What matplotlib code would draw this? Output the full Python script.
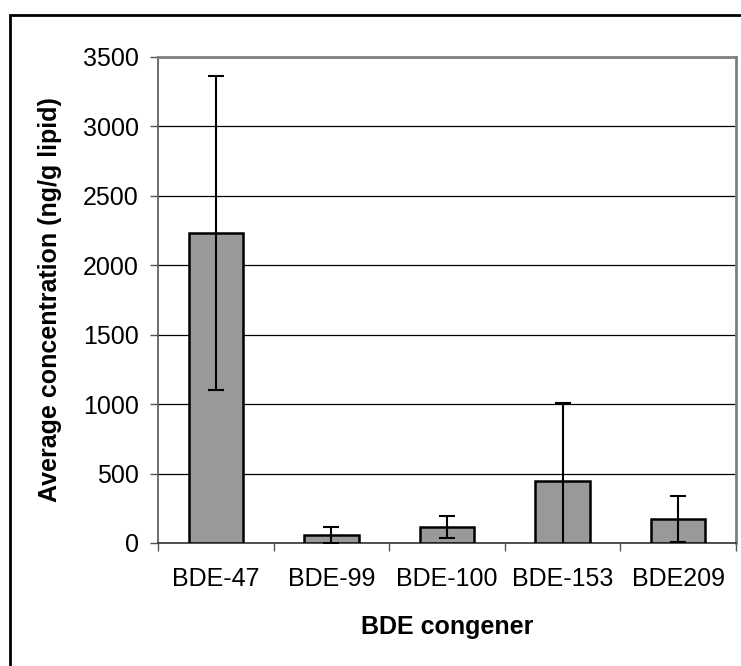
import matplotlib
matplotlib.use("Agg")
import matplotlib.pyplot as plt
from matplotlib.patches import Rectangle
import numpy as np

# Average PBDE congener concentrations with standard deviations
congeners = ["BDE-47", "BDE-99", "BDE-100", "BDE-153", "BDE209"]
mean_conc = [2230, 58, 118, 450, 174]
std_conc = [1130, 58, 80, 558, 166]
y_ticks = [0, 500, 1000, 1500, 2000, 2500, 3000, 3500]

plt.rcParams["font.family"] = ["Liberation Sans", "DejaVu Sans"]
FS = 18

W, H = 741, 666
fig = plt.figure(figsize=(W / 100, H / 100), dpi=100)

# axes placed in pixel terms
left, right, top, bottom = 158, 736, 57, 543
ax = fig.add_axes([left / W, (H - bottom) / H, (right - left) / W, (bottom - top) / H])

x = np.arange(len(congeners))
ax.bar(x, mean_conc, width=0.47, color="#999999", edgecolor="black",
       linewidth=1.8, zorder=3)
ax.errorbar(x, mean_conc, yerr=std_conc, fmt="none", ecolor="black",
            elinewidth=1.5, capsize=5.5, capthick=1.5, zorder=4)

ax.set_xlim(-0.5, len(congeners) - 0.5)
ax.set_ylim(0, 3500)
ax.set_yticks(y_ticks)
ax.yaxis.grid(True, color="black", linewidth=0.9, zorder=0)
ax.set_axisbelow(True)

# category boundaries carry the x ticks
ax.set_xticks(np.arange(-0.5, len(congeners), 1.0))
ax.set_xticklabels([])
ax.set_xticks(x, minor=True)
ax.set_xticklabels(congeners, minor=True)
ax.tick_params(axis="x", which="minor", length=0, pad=17, labelsize=FS)
ax.tick_params(axis="x", which="major", length=6, width=1, color="#555555", direction="out")
ax.tick_params(axis="y", length=6, width=1, color="#555555", pad=8, labelsize=FS)

for side in ("top", "right"):
    ax.spines[side].set_color("#808080")
    ax.spines[side].set_linewidth(2)
ax.spines["left"].set_color("#555555")
ax.spines["left"].set_linewidth(1.2)
ax.spines["bottom"].set_color("#333333")
ax.spines["bottom"].set_linewidth(1.2)

ax.set_ylabel("Average concentration (ng/g lipid)", fontsize=FS, fontweight="bold")
ax.set_xlabel("BDE congener", fontsize=FS, fontweight="bold")
ax.yaxis.set_label_coords((50 - left) / (right - left), 0.5)
ax.xaxis.set_label_coords(0.5, (bottom - 627) / (bottom - top))
ax.xaxis.label.set_va("center")
ax.yaxis.label.set_va("center")

# outer frame around the chart (open at right and bottom edges)
fig.patches.append(Rectangle((10 / W, -0.05), 1.1, (H - 15) / H + 0.05,
                             transform=fig.transFigure, fill=False,
                             edgecolor="black", linewidth=2))

fig.savefig("out.png", dpi=100)
